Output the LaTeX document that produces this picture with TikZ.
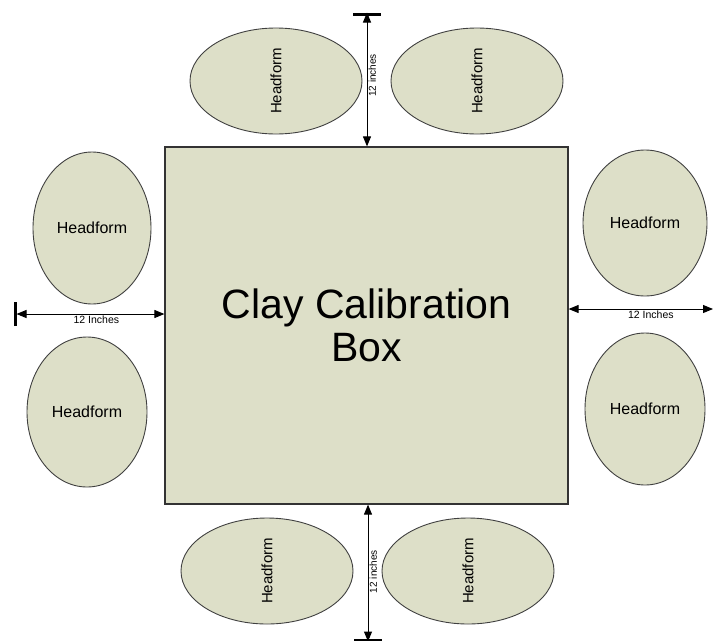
\documentclass[tikz,border=0pt]{standalone}
\usepackage{fontspec}
\setmainfont{Liberation Sans}
\usetikzlibrary{arrows.meta,shapes.geometric}
\definecolor{clayfill}{RGB}{221,223,200}
\tikzset{
  claybox/.style={draw=black!80, line width=1.2pt, rectangle, fill=clayfill, minimum width=403pt, minimum height=357pt, align=center, font=\fontsize{41}{43}\selectfont},
  headform/.style={draw=black!75, line width=0.9pt, ellipse, fill=clayfill, inner sep=0pt, font=\fontsize{16}{18}\selectfont},
  headrot/.style={headform, rotate=90, minimum width=106pt, minimum height=172pt, font=\fontsize{15}{17}\selectfont},
  dimline/.style={<->, >={Triangle[length=10pt,width=8pt]}, line width=1pt, draw=black},
  endbar/.style={line width=3pt, draw=black},
  dimtext/.style={inner sep=1pt, font=\fontsize{10.5}{12}\selectfont},
  dimtextv/.style={inner sep=1pt, rotate=90, anchor=north, font=\fontsize{10}{11}\selectfont}
}

\begin{document}
\begin{tikzpicture}[x=1pt, y=-1pt]
  \useasboundingbox (0,0) rectangle (714,640);
  % calibration box
  \node[claybox] (box) at (366.5,325.5) {Clay Calibration\\Box};
  % headforms above and below
  \node[headrot] (hfTL) at (276,81) {Headform};
  \node[headrot] (hfTR) at (477,81) {Headform};
  \node[headrot] (hfBL) at (267,571) {Headform};
  \node[headrot] (hfBR) at (468,571) {Headform};
  % headforms left and right
  \node[headform, minimum width=118pt, minimum height=152pt] (hfL1) at (92,228) {Headform};
  \node[headform, minimum width=120pt, minimum height=150pt] (hfL2) at (87,412) {Headform};
  \node[headform, minimum width=124pt, minimum height=146pt] (hfR1) at (645,223) {Headform};
  \node[headform, minimum width=120pt, minimum height=152pt] (hfR2) at (645,409) {Headform};
  % distance markers
  \coordinate (topbar) at (367,14);
  \coordinate (botbar) at (368,640);
  \coordinate (leftbar) at (15,314);
  \coordinate (rightend) at (713,309);
  \draw[endbar] ([xshift=-14pt]topbar) -- ([xshift=14pt]topbar);
  \draw[endbar] ([xshift=-14pt]botbar) -- ([xshift=14pt]botbar);
  \draw[endbar] ([yshift=-12pt]leftbar) -- ([yshift=12pt]leftbar);
  \draw[dimline] ([yshift=1.5pt]topbar) -- (topbar |- box.north)
    node[dimtextv, pos=0.47] {12 inches};
  \draw[dimline] (botbar |- box.south) -- ([yshift=-1.5pt]botbar)
    node[dimtextv, pos=0.49] {12 inches};
  \draw[dimline] ([xshift=1.5pt]leftbar) -- (leftbar -| box.west)
    node[dimtext, pos=0.54, below] {12 Inches};
  \draw[dimline] (box.east |- rightend) -- (rightend)
    node[dimtext, pos=0.57, below] {12 Inches};
\end{tikzpicture}
\end{document}
